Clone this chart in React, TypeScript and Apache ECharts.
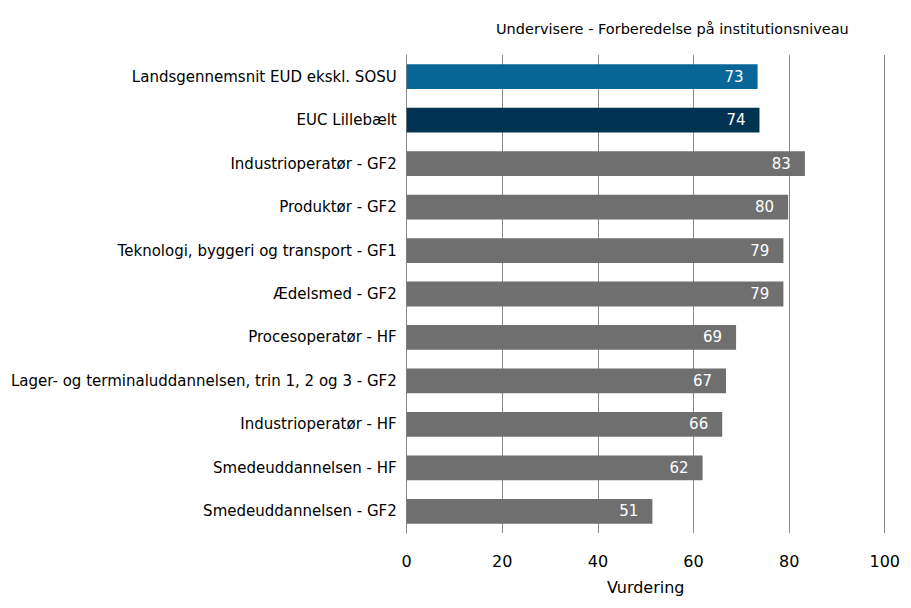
import React, { useEffect, useRef } from "react";
import * as echarts from "echarts";

const categories = [
  "Landsgennemsnit EUD ekskl. SOSU",
  "EUC Lillebælt",
  "Industrioperatør - GF2",
  "Produktør - GF2",
  "Teknologi, byggeri og transport - GF1",
  "Ædelsmed - GF2",
  "Procesoperatør - HF",
  "Lager- og terminaluddannelsen, trin 1, 2 og 3 - GF2",
  "Industrioperatør - HF",
  "Smedeuddannelsen - HF",
  "Smedeuddannelsen - GF2",
];
const values = [73.4, 73.8, 83.3, 79.8, 78.8, 78.8, 68.9, 66.8, 66.0, 61.9, 51.4];
const barColors = ["#0a6699", "#003352", "#6f6f6f", "#6f6f6f", "#6f6f6f", "#6f6f6f", "#6f6f6f", "#6f6f6f", "#6f6f6f", "#6f6f6f", "#6f6f6f"];
const titleText = "Undervisere - Forberedelse på institutionsniveau";
const xAxisName = "Vurdering";

const FONT = "Tahoma, 'DejaVu Sans', sans-serif";

export default function App() {
  const ref = useRef<HTMLDivElement>(null);
  useEffect(() => {
    if (!ref.current) return;
    const chart = echarts.init(ref.current, null, { renderer: "svg" });
    chart.setOption({
      animation: false,
      textStyle: { fontFamily: FONT },
      title: {
        text: titleText,
        left: 483,
        top: 8,
        textStyle: { fontSize: 14.5, fontWeight: "normal", color: "#000", fontFamily: FONT },
      },
      grid: { left: 398, right: 12, top: 47, bottom: 63, containLabel: false },
      xAxis: {
        type: "value",
        min: 0,
        max: 100,
        interval: 20,
        name: xAxisName,
        nameLocation: "middle",
        nameGap: 46,
        nameTextStyle: { fontSize: 16, color: "#000", fontFamily: FONT },
        axisLine: { show: false },
        axisTick: { show: false },
        axisLabel: { fontSize: 16, color: "#000", margin: 20, fontFamily: FONT },
        splitLine: { show: true, lineStyle: { color: "#8a8a8a", width: 1 } },
      },
      yAxis: {
        type: "category",
        data: categories,
        inverse: true,
        axisLine: { show: true, lineStyle: { color: "#8a8a8a" } },
        axisTick: { show: false },
        axisLabel: { fontSize: 15, color: "#000", margin: 10, fontFamily: FONT },
      },
      series: [
        {
          type: "bar",
          data: values.map((v, i) => ({ value: v, itemStyle: { color: barColors[i] } })),
          barCategoryGap: "43%",
          label: {
            show: true,
            position: "insideRight",
            distance: 14,
            color: "#fff",
            fontSize: 15,
            fontFamily: FONT,
            formatter: (p: any) => String(Math.round(p.value)),
          },
        },
      ],
    });
    return () => chart.dispose();
  }, []);
  return <div ref={ref} style={{ width: 895, height: 592 }} />;
}
